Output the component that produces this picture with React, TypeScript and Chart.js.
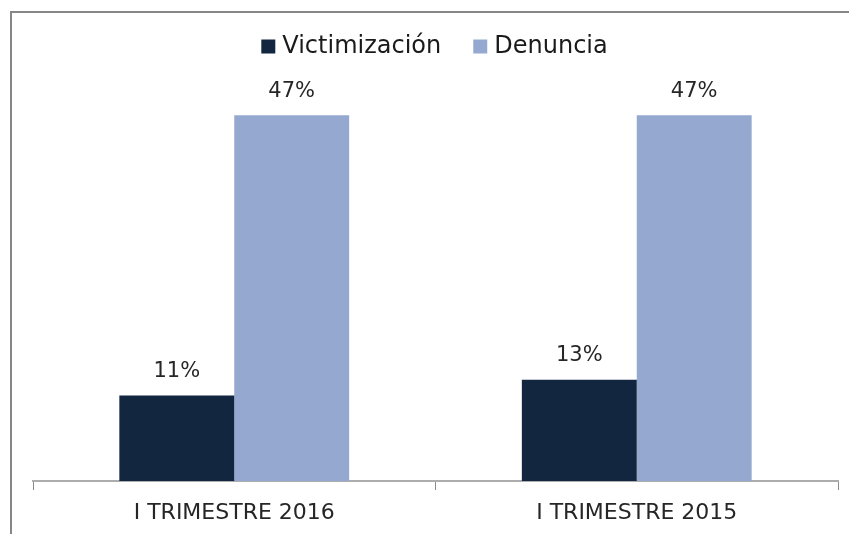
import React, { useEffect, useRef } from "react";
import { Chart, registerables } from "chart.js";

Chart.register(...registerables);

const categories = ["I TRIMESTRE 2016", "I TRIMESTRE 2015"];
const victimizacion = [11, 13];
const denuncia = [47, 47];
const seriesNames = ["Victimización", "Denuncia"];
const seriesColors = ["#12263F", "#95A9D0"];

const FONT = "'DejaVu Sans', sans-serif";

const framePlugin = {
  id: "frame",
  afterDraw(chart: any) {
    const ctx = chart.ctx;
    ctx.save();
    ctx.strokeStyle = "#868686";
    ctx.lineWidth = 2;
    ctx.beginPath();
    ctx.moveTo(11, chart.height);
    ctx.lineTo(11, 12);
    ctx.lineTo(chart.width, 12);
    ctx.stroke();
    ctx.restore();
  },
};

const legendPlugin = {
  id: "customLegend",
  afterDraw(chart: any) {
    const ctx = chart.ctx;
    ctx.save();
    ctx.font = `24px ${FONT}`;
    ctx.textBaseline = "middle";
    const box = 14;
    const gapBoxText = 7;
    const gapItems = 32;
    const widths = seriesNames.map((n) => ctx.measureText(n).width);
    const total =
      widths.reduce((a, b) => a + b, 0) +
      seriesNames.length * (box + gapBoxText) +
      gapItems * (seriesNames.length - 1);
    let x = chart.width / 2 - total / 2 + 10;
    const y = 46.5;
    seriesNames.forEach((n, i) => {
      ctx.fillStyle = seriesColors[i];
      ctx.fillRect(x, y - box / 2, box, box);
      x += box + gapBoxText;
      ctx.fillStyle = "#1a1a1a";
      ctx.fillText(n, x, y);
      x += widths[i] + gapItems;
    });
    ctx.restore();
  },
};

const labelPlugin = {
  id: "valueLabels",
  afterDatasetsDraw(chart: any) {
    const ctx = chart.ctx;
    ctx.save();
    ctx.font = `21px ${FONT}`;
    ctx.fillStyle = "#262626";
    ctx.textAlign = "center";
    ctx.textBaseline = "middle";
    chart.data.datasets.forEach((ds: any, di: number) => {
      const meta = chart.getDatasetMeta(di);
      meta.data.forEach((bar: any, i: number) => {
        ctx.fillText(ds.data[i] + "%", bar.x, bar.y - 24);
      });
    });
    ctx.restore();
  },
};

export default function App() {
  const ref = useRef<HTMLCanvasElement>(null);
  useEffect(() => {
    const chart = new Chart(ref.current!, {
      type: "bar",
      data: {
        labels: categories,
        datasets: [
          { label: seriesNames[0], data: victimizacion, backgroundColor: seriesColors[0] },
          { label: seriesNames[1], data: denuncia, backgroundColor: seriesColors[1] },
        ],
      },
      options: {
        animation: false,
        responsive: false,
        maintainAspectRatio: false,
        layout: { padding: { left: 33, right: 11, top: 92, bottom: 8 } },
        datasets: { bar: { categoryPercentage: 0.571, barPercentage: 1 } },
        plugins: { legend: { display: false }, tooltip: { enabled: false } },
        scales: {
          x: {
            afterFit: (scale: any) => {
              scale.height = 45;
            },
            grid: {
              display: true,
              drawOnChartArea: false,
              offset: true,
              tickLength: 9,
              color: "#8C8C8C",
              lineWidth: 1,
            },
            border: { display: true, color: "#ADADAD", width: 2 },
            ticks: {
              font: { family: FONT, size: 22 },
              color: "#262626",
              padding: 10,
              maxRotation: 0,
            },
          },
          y: {
            display: false,
            min: 0,
            max: 50,
          },
        },
      },
      plugins: [framePlugin, legendPlugin, labelPlugin],
    });
    return () => chart.destroy();
  }, []);
  return (
    <div style={{ position: "absolute", left: 0, top: 0, width: 849, height: 534, background: "#fff" }}>
      <canvas ref={ref} width={849} height={534} />
    </div>
  );
}
